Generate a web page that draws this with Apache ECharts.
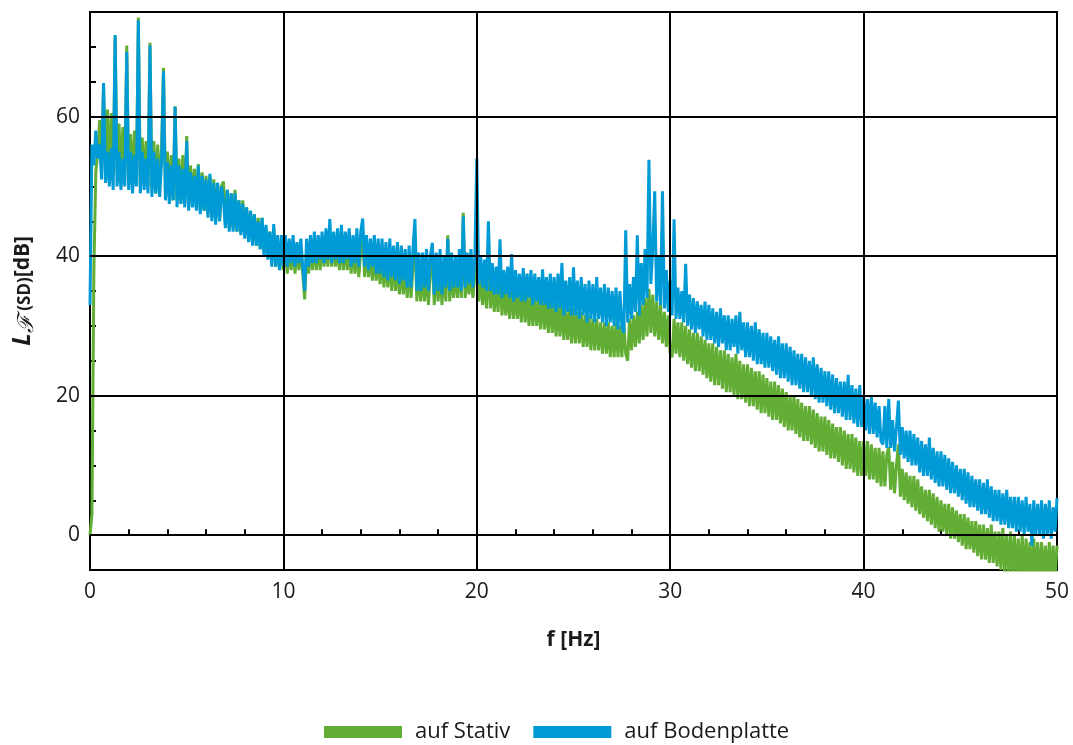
<!DOCTYPE html>
<html>
<head>
<meta charset="utf-8">
<script src="https://cdn.jsdelivr.net/npm/echarts@6/dist/echarts.min.js"></script>
<style>
html,body{margin:0;padding:0;background:#fff;}
#chart{width:1073px;height:745px;}
</style>
</head>
<body>
<div id="chart"></div>
<script>
// sampling grid of the spectra (Hz per sample)
const freqStep = 0.1;
const seriesNames = ['auf Stativ', 'auf Bodenplatte'];
const xTickLabels = [0, 10, 20, 30, 40, 50];
const yTickLabels = [0, 20, 40, 60];

// L_F(SD) [dB], one row per Hz (0.0 ... 0.9)
const stativ = [
  0, 3, 38, 52, 55, 59.5, 52.5, 64.5, 53, 61,
  52, 60.5, 51.5, 71.5, 52, 59, 51, 58.5, 51, 70.2,
  50.5, 57.5, 50, 58, 51, 74.2, 50, 57, 50.5, 56.5,
  50, 70.6, 49.5, 56.5, 49, 56, 49.5, 55.5, 67, 49,
  55, 48.5, 54.5, 48, 61.5, 48, 54, 47.5, 54.5, 47.5,
  57.2, 47, 53, 47.5, 52.5, 47, 53.2, 46.5, 52, 46.5,
  51.5, 46, 51.5, 45.5, 51, 45.5, 50.5, 45, 50, 50.7,
  44.5, 49.5, 44, 49, 44, 49.5, 43.5, 48, 43.5, 48,
  43, 47, 42.5, 46.5, 42, 46, 41.5, 45.5, 41, 45.5,
  40.5, 44, 40, 43.5, 39, 44, 38.5, 42.5, 38, 42,
  38, 42, 37.5, 41.5, 38, 42, 37.5, 41.5, 38, 41,
  37.5, 33.8, 41, 37.5, 41.5, 38, 41.5, 38, 42, 38,
  42, 38.5, 42, 38.5, 43, 38.5, 42, 38.5, 42, 38,
  42, 38, 41.5, 38, 42, 37.5, 41.5, 37.5, 41.5, 37,
  41, 43.5, 37, 41, 37, 40.5, 36.5, 40.5, 36.5, 40,
  36, 40, 35.5, 40, 35.5, 39.5, 35, 39.5, 35, 39,
  34.5, 39, 34.5, 38.5, 34, 39, 34, 38.5, 43, 33.5,
  38.5, 33.5, 38, 33.5, 38.5, 33, 38, 40, 33, 38,
  33.5, 38, 33, 38.5, 33.5, 43, 33.5, 38, 34, 38,
  34, 38.5, 34, 46.2, 34, 38, 34.5, 38.5, 34, 37.5,
  45, 33.5, 37, 33, 37, 32.5, 40, 32.5, 36.5, 32,
  36, 32, 38, 31.5, 35.5, 31.5, 35.5, 31, 36, 31,
  35, 31, 35, 30.5, 35, 30.5, 34.5, 30, 34.5, 30,
  34, 30, 34, 29.5, 34.5, 29.5, 33.5, 29, 33.5, 29,
  33, 28.5, 33, 28.5, 33.5, 28, 32.5, 28, 32.5, 27.5,
  32.5, 27.5, 32, 27.5, 32, 27, 31.5, 27, 31.5, 26.5,
  31, 26.5, 31, 26.5, 30.5, 26, 30.5, 26, 30.5, 25.5,
  30, 25.5, 30.5, 25.5, 30, 25.5, 30.5, 26, 25, 31,
  26.5, 31.5, 27, 32, 27.5, 33, 28, 34, 28.5, 35.3,
  29, 34.5, 28.5, 33.5, 28, 33, 27.5, 32, 27, 31.5,
  26, 25.5, 31, 26, 30.5, 25.5, 30.5, 25, 30, 24.5,
  29.5, 24, 29, 23.5, 29, 23.5, 28.5, 23, 28, 22.5,
  27.5, 22, 27.5, 21.5, 27, 21.5, 26.5, 21, 26.5, 20.5,
  26, 20.5, 25.5, 20, 26, 19.5, 25, 19.5, 24.5, 19,
  24.5, 18.5, 24, 18.5, 23.5, 18, 23.5, 17.5, 23, 17.5,
  22.5, 17, 22, 16.5, 22, 16.5, 21.5, 16, 21, 15.5,
  20.5, 15, 20, 15, 20, 14.5, 19.5, 14, 19, 13.5,
  18.5, 13.5, 18.5, 13, 18, 12.5, 17.5, 12, 17, 12,
  17, 11.5, 16.5, 11, 16, 11, 15.5, 10.5, 15.5, 10,
  15, 9.5, 14.5, 9.5, 14.5, 9, 14, 8.5, 13.5, 8.5,
  13.5, 8.5, 13.5, 8, 13, 8, 12.5, 7.5, 12.5, 7,
  12, 7, 11.5, 12.6, 6.5, 10.5, 6, 10, 13, 5.5,
  9.5, 5, 9, 4.5, 8.5, 4, 8.5, 3.5, 8, 3,
  7, 2.5, 6.5, 2, 6.5, 1.5, 6, 1, 5.5, 0.5,
  5, 0.5, 4.5, 0, 4.5, -0.5, 4, -0.5, 3.5, -1,
  3, -1.5, 3, -2, 2.5, -2, 2, -2.5, 2, -3,
  1.5, -3.5, 1.5, -3.5, 1, -4, 1.5, -4, 0.5, -4.5,
  0.5, -5, 1, -5.5, 0, -5.5, 0.5, -6, 0, -6,
  -0.5, -6, 0, -6.5, -0.5, -6, -1, -6.5, -0.5, -6,
  -1, -6.5, -1, -6, -1.5, -6.5, -1, -6, -1.5, -6,
  -1.5
];

const bodenplatte = [
  33, 56, 53, 58, 54, 56, 51, 64.8, 50.5, 55,
  50, 55.5, 49.5, 71.7, 50, 55, 49.5, 54, 50, 69.3,
  49.5, 55, 49, 54.5, 50, 73.8, 49, 55, 49.5, 54,
  49, 70.2, 48.5, 55, 49, 54, 48.5, 53.5, 66.5, 48,
  53.5, 47.5, 53, 48, 61.4, 47, 53, 47.5, 52.5, 47,
  56.5, 46.5, 52, 47, 51.5, 46.5, 53, 46, 51.5, 46.5,
  51, 45.5, 51.8, 45, 50.5, 44.5, 50.5, 45, 50, 48,
  44, 49.5, 43.5, 49, 43.5, 49, 43.5, 48, 43, 47.5,
  42.5, 47, 42, 46.5, 41.5, 46, 41.5, 45, 41, 45.5,
  40, 44.5, 39.5, 43.5, 38.5, 44.6, 38.5, 43, 38, 43,
  38.5, 43, 38.5, 42.5, 39, 43, 38.5, 42, 39, 42.5,
  38.5, 35, 42.5, 38.5, 43, 39, 43.5, 39, 43, 39.5,
  43.5, 39, 44, 39.5, 45.3, 39, 43.5, 39.5, 44, 39,
  44.5, 39, 43.5, 39.5, 44, 38.5, 43, 39, 44, 38.5,
  43.5, 45.4, 38.5, 43, 38, 42.5, 38.5, 43, 37.5, 42.5,
  37.5, 42.5, 37, 42, 36.5, 42.5, 37, 41.5, 36.5, 42,
  36, 41.5, 36.5, 41, 35.5, 41.5, 35.5, 41, 45.3, 35,
  40.5, 35, 40.5, 35.5, 41, 35, 40, 41.9, 34.5, 40.5,
  35, 41, 34.5, 40, 35.5, 42.5, 35, 40.5, 35.5, 40,
  35.5, 41, 35, 45.7, 35.5, 40.5, 36, 41, 35.5, 40,
  54, 36, 40, 35.5, 39.5, 35, 45, 35, 39, 34.5,
  38.5, 34.5, 42.4, 34, 38, 34.5, 38.5, 34, 40.3, 33.5,
  38, 34, 37.5, 33.5, 38.3, 33.5, 37.5, 34, 38, 33,
  37.5, 33.5, 37, 33, 38.1, 33, 37, 32.5, 37.5, 32.5,
  37, 32, 37.5, 32.5, 39, 31.5, 36.5, 32, 37, 31.5,
  38.4, 31.5, 36.5, 31, 37, 31.5, 36, 30.5, 36.5, 31,
  36, 30.5, 37, 31, 35.5, 30.5, 36, 30, 35.5, 30.5,
  35, 30, 35.5, 29.5, 35, 30, 29, 43.7, 30.5, 36,
  31, 37, 32, 43, 31.5, 39, 33, 41, 34, 53.8,
  36, 41.2, 49.3, 33.5, 40, 33, 49.3, 32.5, 38, 32,
  36.5, 31.5, 45.3, 31, 35.5, 31, 35, 30.5, 38.9, 30,
  34.5, 29.5, 34, 29, 33.5, 29.5, 33, 28.5, 33.5, 28,
  33, 28, 32.5, 27.5, 32, 27, 32.5, 27.5, 31.5, 26.5,
  31.5, 26.5, 31, 27, 31.5, 26, 32, 26.5, 30.5, 25.5,
  30.5, 25.5, 30, 25, 30.5, 24.5, 29.5, 24.5, 29, 24,
  29, 24, 28.5, 23.5, 28, 23, 28.5, 22.5, 27.5, 22.5,
  27.5, 22, 27, 21.5, 26.5, 21.5, 26, 21, 26, 20.5,
  25.5, 20.5, 25, 20, 25.5, 19.5, 24.5, 19, 24, 19,
  23.5, 18.5, 23.5, 18, 23, 17.5, 22.5, 17.5, 22, 17,
  22, 16.5, 23, 16.5, 21.5, 16, 21, 15.5, 21.5, 15.5,
  20, 15, 19.5, 14.5, 20, 14.5, 19, 14, 18.5, 13.5,
  13, 18.5, 12.5, 19.5, 12.5, 16.5, 12, 15.5, 19.3, 11.5,
  15.5, 11, 15, 10.5, 15, 10, 14.5, 10, 14, 9,
  13.5, 8.5, 13, 8.5, 14, 8, 12.5, 7.5, 12, 7,
  12, 7, 11.5, 6.5, 11, 6, 10.5, 6, 10, 5.5,
  9.5, 5, 9.5, 4.5, 9, 4, 8.5, 4, 8, 3.5,
  8, 3, 7.5, 3, 8, 2.5, 7, 2, 6.5, 2,
  6.5, 1.5, 6, 1.5, 6.5, 1, 5.5, 1, 5.5, 0.5,
  5.5, 0.5, 5, 0, 5.5, 0.5, 4.5, -1.5, 5, 0,
  4.5, 0, 5, -0.5, 4.5, 0, 5, -0.5, 4, 0.5,
  5.3
];

const colors = ['#62ad34', '#009bd6'];
const FONT = 'Open Sans';
const TEXT = '#1a1a1a';

function toPairs(arr) {
  return arr.map((v, i) => [Math.round(i * freqStep * 10) / 10, v]);
}

const chart = echarts.init(document.getElementById('chart'), null, {renderer: 'canvas'});

const gridLineData = []
  .concat(xTickLabels.filter(v => v > 0 && v < 50).map(v => ({xAxis: v})))
  .concat(yTickLabels.map(v => ({yAxis: v})));

chart.setOption({
  animation: false,
  backgroundColor: '#fff',
  textStyle: {fontFamily: FONT},
  grid: {left: 90, right: 16, top: 12, bottom: 175, show: true, borderColor: '#000', borderWidth: 2, backgroundColor: 'transparent'},
  legend: {
    data: seriesNames,
    left: 319, top: 716,
    icon: 'rect', itemWidth: 78, itemHeight: 12, itemGap: 23,
    textStyle: {fontSize: 22, color: TEXT, fontFamily: FONT, padding: [0, 0, 0, 8]}
  },
  xAxis: {
    type: 'value', min: 0, max: 50, interval: 2,
    axisLine: {show: true, lineStyle: {color: '#000', width: 2}},
    axisTick: {show: true, inside: true, length: 6, lineStyle: {color: '#000', width: 2}},
    axisLabel: {
      formatter: v => (xTickLabels.indexOf(v) >= 0 ? String(v) : ''),
      fontSize: 21, color: TEXT, fontFamily: FONT, margin: 12
    },
    splitLine: {show: false},
    name: 'f [Hz]', nameLocation: 'middle', nameGap: 60,
    nameTextStyle: {fontWeight: 'bold', fontSize: 21, color: TEXT, fontFamily: FONT}
  },
  yAxis: {
    type: 'value', min: -5, max: 75, interval: 5,
    axisLine: {show: true, lineStyle: {color: '#000', width: 2}},
    axisTick: {show: true, inside: true, length: 6, lineStyle: {color: '#000', width: 2}},
    axisLabel: {
      formatter: v => (yTickLabels.indexOf(v) >= 0 ? String(v) : ''),
      fontSize: 21, color: TEXT, fontFamily: FONT, margin: 10
    },
    splitLine: {show: false},
    name: '{L|L}{F|ℱ}{s| (SD)}{d|[dB]}',
    nameLocation: 'middle', nameGap: 52, nameRotate: 90,
    nameTextStyle: {
      color: TEXT, fontFamily: FONT,
      rich: {
        L: {fontSize: 25, fontWeight: 'bold', fontStyle: 'italic', color: TEXT, fontFamily: FONT},
        F: {fontSize: 22, fontStyle: 'italic', color: TEXT, fontFamily: 'DejaVu Serif', padding: [8, 0, 0, 0]},
        s: {fontSize: 17, fontWeight: 'bold', color: TEXT, fontFamily: FONT, padding: [4, 0, 0, 0]},
        d: {fontSize: 21, fontWeight: 'bold', color: TEXT, fontFamily: FONT}
      }
    }
  },
  series: [
    {
      type: 'line', z: 1, data: [], silent: true,
      markLine: {
        silent: true, symbol: ['none', 'none'], label: {show: false},
        lineStyle: {color: '#000', width: 2, type: 'solid'},
        emphasis: {disabled: true},
        data: gridLineData
      }
    },
    {
      name: seriesNames[0], type: 'line', z: 2, showSymbol: false, symbol: 'none',
      data: toPairs(stativ), color: colors[0],
      lineStyle: {color: colors[0], width: 3}, clip: true
    },
    {
      name: seriesNames[1], type: 'line', z: 3, showSymbol: false, symbol: 'none',
      data: toPairs(bodenplatte), color: colors[1],
      lineStyle: {color: colors[1], width: 3}, clip: true
    }
  ]
});
</script>
</body>
</html>
